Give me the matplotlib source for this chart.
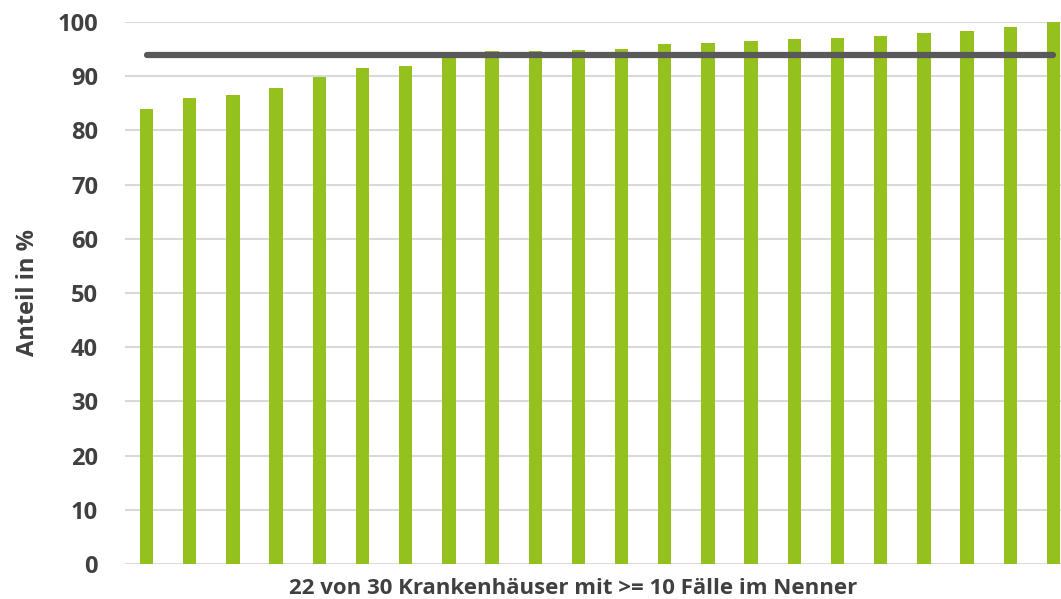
import matplotlib
matplotlib.use("Agg")
import matplotlib.pyplot as plt
import numpy as np

# Share per hospital (%), sorted ascending, and the reference value
hospitals = [f"KH {i}" for i in range(1, 23)]
shares = [83.9, 86.0, 86.5, 87.8, 89.8, 91.6, 91.9, 93.6, 94.6, 94.6, 94.8,
          95.0, 95.9, 96.1, 96.5, 96.9, 97.0, 97.5, 98.0, 98.3, 99.1, 100.0]
reference_value = 94.0
y_ticks = [0, 10, 20, 30, 40, 50, 60, 70, 80, 90, 100]

plt.rcParams['font.family'] = ['Open Sans', 'DejaVu Sans']

W, H = 1061, 599
fig = plt.figure(figsize=(W / 100, H / 100), dpi=100)
ax = fig.add_axes([125 / W, 35 / H, 950 / W, 542 / H])

x = np.arange(len(hospitals))
ax.bar(x, shares, width=0.31, color='#95C11F', zorder=2, clip_on=False)
ax.plot([x[0], x[-1]], [reference_value, reference_value], color='#595959',
        linewidth=4.5, solid_capstyle='round', zorder=3, clip_on=False)

ax.set_xlim(-0.5, len(hospitals) - 0.5)
ax.set_ylim(0, 100)
ax.set_yticks(y_ticks)
ax.set_xticks([])
ax.yaxis.grid(True, color='#D9D9D9', linewidth=1.5, zorder=0)
ax.set_axisbelow(True)
for s in ax.spines.values():
    s.set_visible(False)
ax.tick_params(axis='y', length=0, pad=19.5, labelsize=17, labelcolor='#404040')
for lbl in ax.get_yticklabels():
    lbl.set_fontweight('bold')

fig.text(573 / W, 11 / H, '22 von 30 Krankenhäuser mit >= 10 Fälle im Nenner',
         ha='center', va='center', fontsize=16, fontweight='bold', color='#404040')
fig.text(28 / W, 1 - 292 / H, 'Anteil in %', rotation=90, ha='center', va='center',
         fontsize=17, fontweight='bold', color='#404040')

fig.savefig('out.png', dpi=100)
